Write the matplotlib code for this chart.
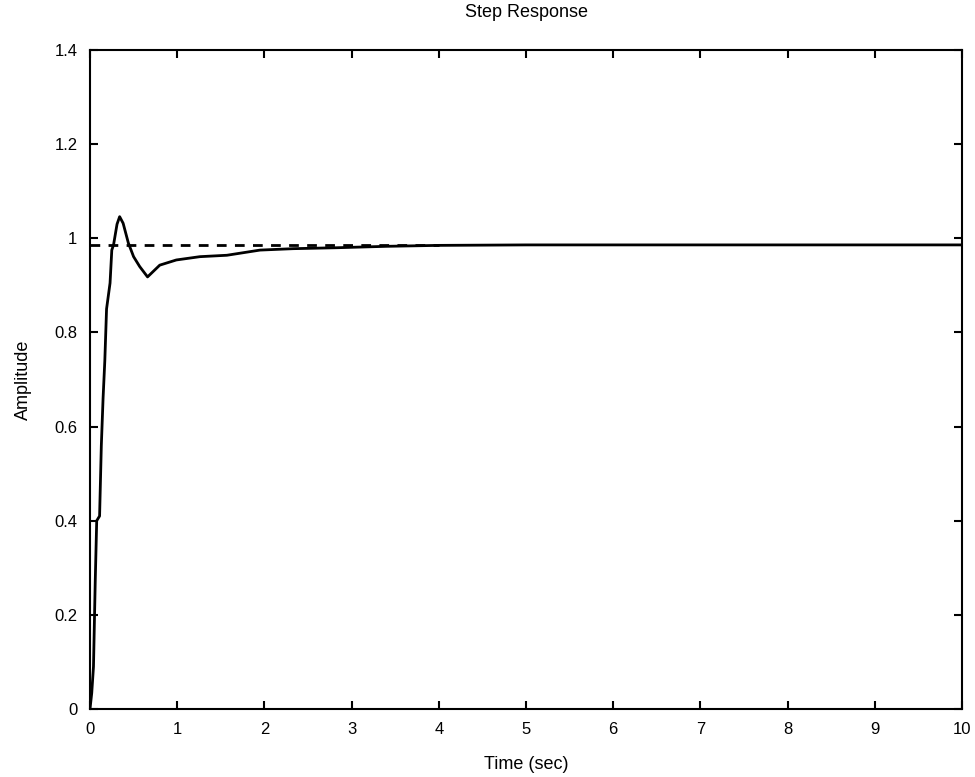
import numpy as np
import matplotlib.pyplot as plt

plt.rcParams['font.family'] = ['Liberation Sans', 'DejaVu Sans']

# step response samples (time in sec, amplitude)
t = [0.0, 0.02, 0.04, 0.06, 0.077, 0.11, 0.13, 0.15, 0.17, 0.19, 0.23, 0.25,
     0.27, 0.31, 0.34, 0.38, 0.44, 0.50, 0.57, 0.66, 0.80, 0.99, 1.26, 1.57,
     1.95, 2.33, 2.83, 3.4, 4.0, 5.0, 6.0, 7.0, 8.0, 9.0, 10.0]
amp = [0.0, 0.034, 0.09, 0.27, 0.40, 0.41, 0.56, 0.66, 0.74, 0.85, 0.905, 0.975,
       0.986, 1.03, 1.046, 1.032, 0.99, 0.961, 0.94, 0.918, 0.943, 0.954, 0.961, 0.964,
       0.975, 0.978, 0.980, 0.983, 0.985, 0.986, 0.986, 0.986, 0.986, 0.986, 0.986]

# steady state reference
ss_value = 0.985
ss_t = [0.0, 4.0]

fig = plt.figure(figsize=(9.75, 7.77), dpi=100)
ax = fig.add_axes([0.0923, 0.0875, 0.8944, 0.8481])

ax.plot(t, amp, color='black', linewidth=2)
ax.plot(ss_t, [ss_value, ss_value], color='black', linestyle=(0, (3.5, 3)), linewidth=2)

ax.set_xlim(0, 10)
ax.set_ylim(0, 1.4)
ax.set_xticks(np.arange(0, 11, 1))
ax.set_yticks([0, 0.2, 0.4, 0.6, 0.8, 1, 1.2, 1.4])
ax.set_yticklabels(['0', '0.2', '0.4', '0.6', '0.8', '1', '1.2', '1.4'])
ax.tick_params(direction='in', top=True, right=True, length=6, width=1.5,
               labelsize=12, pad=9)
for s in ax.spines.values():
    s.set_linewidth(1.5)

ax.set_xlabel('Time (sec)', fontsize=13, labelpad=14)
ax.set_ylabel('Amplitude', fontsize=13, labelpad=16)
ax.set_title('Step Response', fontsize=13, pad=24)

plt.savefig('out.png', dpi=100)
